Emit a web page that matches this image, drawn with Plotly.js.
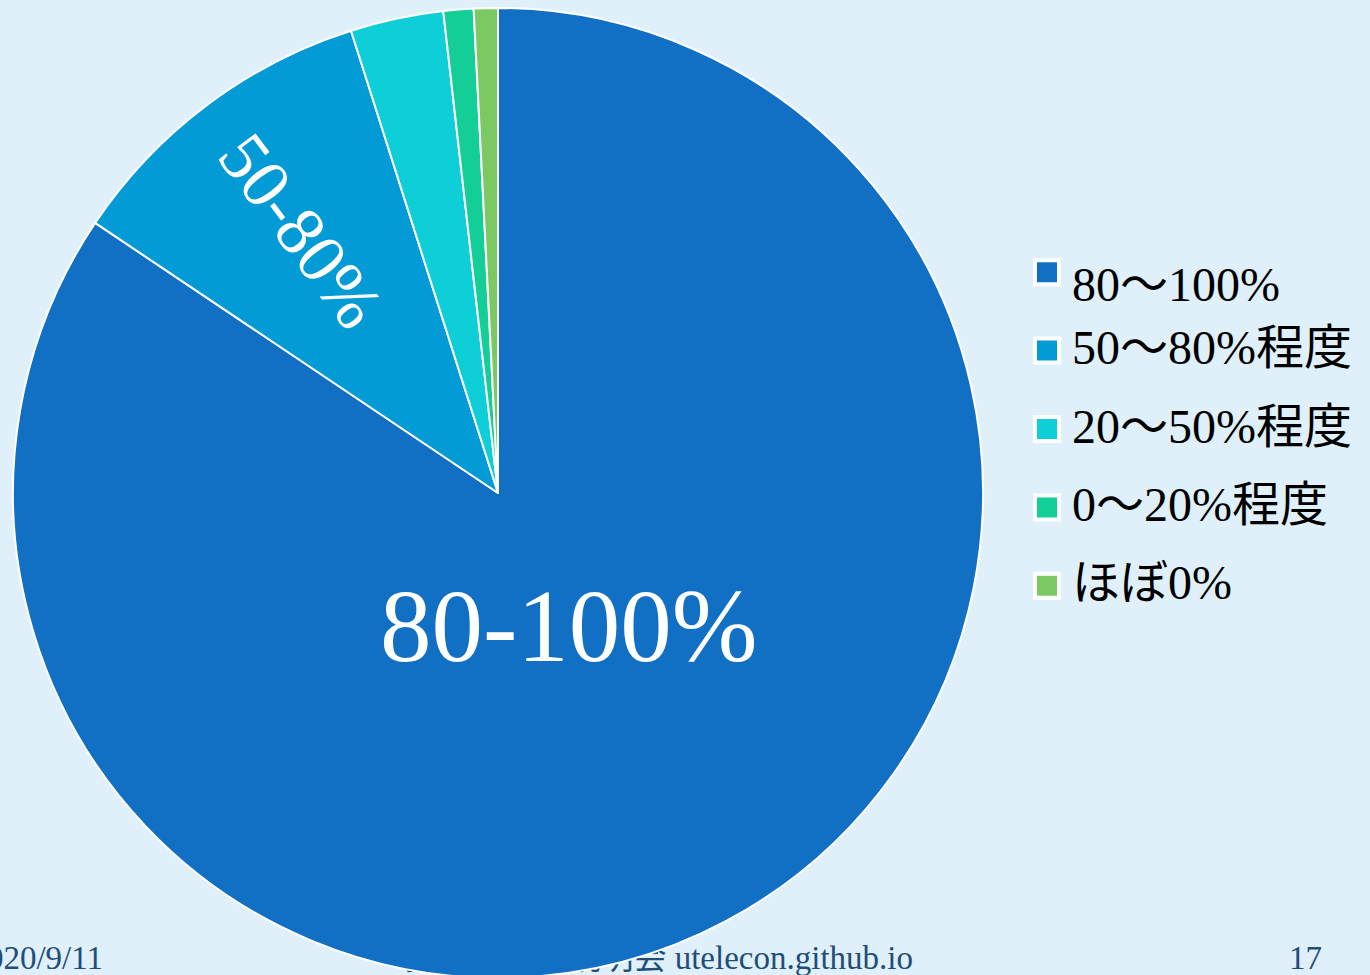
<!DOCTYPE html>
<html>
<head>
<meta charset="utf-8">
<script src="https://cdn.plot.ly/plotly-3.0.1.min.js"></script>
<style>
  html, body { margin:0; padding:0; width:1370px; height:975px; overflow:hidden; background:#DFF0FA; }
  #footer div { position:absolute; font-family:"Liberation Serif","Noto Sans CJK JP",serif; font-size:33px; line-height:33px; color:#1F4E79; white-space:nowrap; }
  #plot { position:absolute; left:0; top:0; width:1370px; height:990px; z-index:1; }
  #footer { position:absolute; left:0; top:0; width:1370px; height:975px; z-index:0; }
</style>
</head>
<body>
<div id="footer">
  <div style="right:1267px; top:942px;">2020/9/11</div>
  <div style="right:457px; top:942px;">教職員向け説明会 utelecon.github.io</div>
  <div style="right:48px; top:942px;">17</div>
</div>
<div id="plot"></div>
<script>
// ---- data ----
const categories = ["80〜100%", "50〜80%程度", "20〜50%程度", "0〜20%程度", "ほぼ0%"];
const values = [84.4, 10.7, 3.1, 1.0, 0.8];
const sliceColors = ["#1170C4", "#039BD6", "#0ECFD8", "#13CE96", "#7CC862"];
const sliceLabels = ["80-100%", "50-80%", "", "", ""];

const W = 1370, H = 990;
const domX = [13 / W, 983 / W];
const domY = [(H - 978) / H, (H - 8) / H];
const R = 485;
const cxPx = 498, cyPx = 493;

const serif = '"Liberation Serif", "Noto Sans CJK JP", serif';

// label placement derived from data (mid-angle of each slice)
const total = values.reduce((a, b) => a + b, 0);
const radFactor = [0.31, 0.675];
const labelSize = [103, 70];
const annotations = [];
let cum = 0;
values.forEach((v, i) => {
  const mid = (cum + v / 2) / total * 2 * Math.PI; // clockwise from top
  cum += v;
  if (!sliceLabels[i]) return;
  const r = R * radFactor[i];
  const px = cxPx + Math.sin(mid) * r;
  const py = cyPx - Math.cos(mid) * r;
  let angle = 0;
  if (i === 1) {
    // radial orientation, reading from rim toward centre
    angle = Math.atan2(Math.cos(mid), -Math.sin(mid)) * 180 / Math.PI;
  }
  annotations.push({
    xref: "paper", yref: "paper",
    x: px / W, y: 1 - py / H,
    xanchor: "center", yanchor: "middle",
    text: sliceLabels[i], showarrow: false,
    textangle: angle,
    font: { family: serif, size: labelSize[i], color: "#FFFFFF" }
  });
});

const legendText = 48;
const trace = {
  type: "pie",
  labels: categories.map(c => '<span style="font-size:' + legendText + 'px">' + c + '</span>'),
  values: values,
  sort: false,
  direction: "clockwise",
  rotation: 0,
  textinfo: "none",
  hoverinfo: "label+percent",
  marker: { colors: sliceColors, line: { color: "#FFFFFF", width: 2 } },
  domain: { x: domX, y: domY }
};

const layout = {
  width: W, height: H,
  margin: { l: 0, r: 0, t: 0, b: 0 },
  paper_bgcolor: "rgba(0,0,0,0)",
  plot_bgcolor: "rgba(0,0,0,0)",
  showlegend: true,
  legend: {
    x: 1027 / W, y: 1 - 228 / H, xanchor: "left", yanchor: "top",
    font: { family: serif, size: 58, color: "#000000" },
    bgcolor: "rgba(0,0,0,0)"
  },
  annotations: annotations
};

Plotly.newPlot("plot", [trace], layout, { displayModeBar: false, staticPlot: true }).then(gd => {
  // enlarge the legend swatches to match the reference square size
  gd.querySelectorAll(".legendpoints path").forEach(p => {
    p.setAttribute("transform", "translate(20,0) scale(2)");
  });
  // nudge legend text up so it centres on the larger swatch like the reference
  gd.querySelectorAll("text.legendtext").forEach((t, i) => {
    const y = parseFloat(t.getAttribute("y") || "0");
    const x = parseFloat(t.getAttribute("x") || "0");
    t.setAttribute("y", y - (i === 0 ? -6 : 9));
    t.setAttribute("x", x + 5);
  });
});
</script>
</body>
</html>
